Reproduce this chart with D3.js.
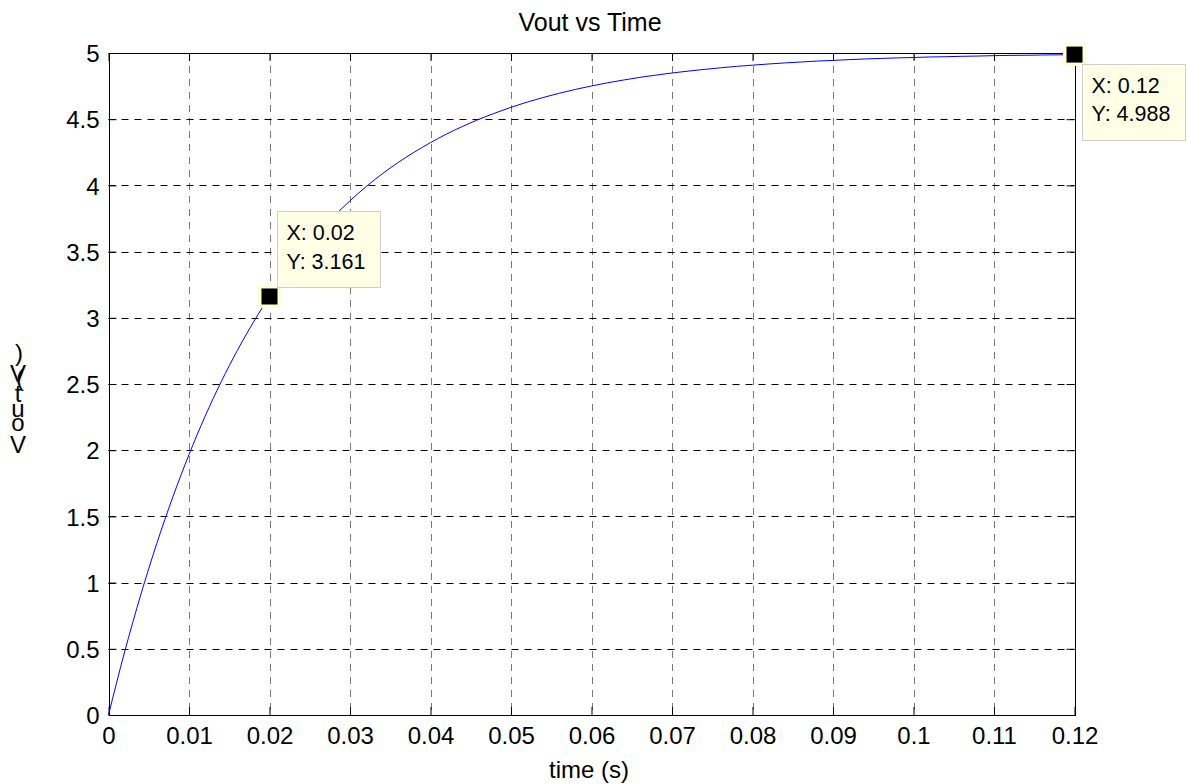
<!DOCTYPE html>
<html>
<head>
<meta charset="utf-8">
<script src="https://cdn.jsdelivr.net/npm/d3@7"></script>
<style>
  body { margin: 0; background: #fff; }
  text { font-family: "Liberation Sans", Arial, sans-serif; fill: #000; }
</style>
</head>
<body>
<div id="chart"></div>
<script>
// time samples (s) and Vout (V)
const time = [0, 0.002, 0.004, 0.006, 0.008, 0.01, 0.012, 0.014, 0.016, 0.018,
  0.02, 0.022, 0.024, 0.026, 0.028, 0.03, 0.032, 0.034, 0.036, 0.038,
  0.04, 0.042, 0.044, 0.046, 0.048, 0.05, 0.052, 0.054, 0.056, 0.058,
  0.06, 0.062, 0.064, 0.066, 0.068, 0.07, 0.072, 0.074, 0.076, 0.078,
  0.08, 0.082, 0.084, 0.086, 0.088, 0.09, 0.092, 0.094, 0.096, 0.098,
  0.1, 0.102, 0.104, 0.106, 0.108, 0.11, 0.112, 0.114, 0.116, 0.118, 0.12];
const vout = [0, 0.476, 0.906, 1.296, 1.648, 1.967, 2.256, 2.517, 2.753, 2.967,
  3.161, 3.336, 3.494, 3.637, 3.767, 3.884, 3.991, 4.087, 4.174, 4.252,
  4.323, 4.388, 4.446, 4.499, 4.546, 4.590, 4.629, 4.664, 4.696, 4.725,
  4.751, 4.775, 4.796, 4.816, 4.833, 4.849, 4.863, 4.876, 4.888, 4.899,
  4.908, 4.917, 4.925, 4.932, 4.939, 4.944, 4.950, 4.955, 4.959, 4.963,
  4.966, 4.970, 4.972, 4.975, 4.977, 4.980, 4.982, 4.983, 4.985, 4.986, 4.988];

const xTicks = [0, 0.01, 0.02, 0.03, 0.04, 0.05, 0.06, 0.07, 0.08, 0.09, 0.1, 0.11, 0.12];
const xTickLabels = ["0", "0.01", "0.02", "0.03", "0.04", "0.05", "0.06", "0.07", "0.08", "0.09", "0.1", "0.11", "0.12"];
const yTicks = [0, 0.5, 1, 1.5, 2, 2.5, 3, 3.5, 4, 4.5, 5];
const yTickLabels = ["0", "0.5", "1", "1.5", "2", "2.5", "3", "3.5", "4", "4.5", "5"];

// data tips
const tipX = [0.02, 0.12];
const tipY = [3.161, 4.988];
const tipText = [["X: 0.02", "Y: 3.161"], ["X: 0.12", "Y: 4.988"]];

const width = 1187, height = 784;
const plotLeft = 108.5, plotRight = 1074.5, plotTop = 53, plotBottom = 715;

const svg = d3.select("#chart").append("svg")
  .attr("width", width)
  .attr("height", height);

const x = d3.scaleLinear().domain([0, 0.12]).range([plotLeft, plotRight]);
const y = d3.scaleLinear().domain([0, 5]).range([plotBottom, plotTop]);

// grid
svg.append("g").selectAll("line")
  .data(xTicks.slice(1, -1))
  .enter().append("line")
  .attr("x1", d => Math.round(x(d)) + 0.5).attr("x2", d => Math.round(x(d)) + 0.5)
  .attr("y1", plotTop).attr("y2", plotBottom)
  .attr("stroke", "#7a7a7a")
  .attr("stroke-dasharray", "7,6");

svg.append("g").selectAll("line")
  .data(yTicks.slice(1, -1))
  .enter().append("line")
  .attr("x1", plotLeft).attr("x2", plotRight)
  .attr("y1", d => Math.round(y(d)) + 0.5).attr("y2", d => Math.round(y(d)) + 0.5)
  .attr("stroke", "#000")
  .attr("stroke-dasharray", "7,6");

// axes (ticks point inward, mirrored on top/right)
const xAxis = d3.axisBottom(x).tickValues(xTicks)
  .tickFormat((d, i) => xTickLabels[i])
  .tickSizeInner(-8).tickSizeOuter(0).tickPadding(12);
const yAxis = d3.axisLeft(y).tickValues(yTicks)
  .tickFormat((d, i) => yTickLabels[i])
  .tickSizeInner(-8).tickSizeOuter(0).tickPadding(9);

const gx = svg.append("g").attr("transform", `translate(0,${plotBottom})`).call(xAxis);
const gy = svg.append("g").attr("transform", `translate(${plotLeft},0)`).call(yAxis);
const gxt = svg.append("g").attr("transform", `translate(0,${plotTop})`)
  .call(d3.axisTop(x).tickValues(xTicks).tickFormat("").tickSizeInner(-8).tickSizeOuter(0));
const gyr = svg.append("g").attr("transform", `translate(${plotRight},0)`)
  .call(d3.axisRight(y).tickValues(yTicks).tickFormat("").tickSizeInner(-8).tickSizeOuter(0));

[gx, gy, gxt, gyr].forEach(g => {
  g.select(".domain").remove();
  g.selectAll("line").attr("stroke", "#000");
  g.attr("font-family", null);
});
gx.selectAll("text").attr("font-size", 24);
gy.selectAll("text").attr("font-size", 24).attr("dy", "0.36em");

// box
svg.append("rect")
  .attr("x", Math.round(plotLeft) + 0.5).attr("y", plotTop + 0.5)
  .attr("width", Math.round(plotRight) - Math.round(plotLeft)).attr("height", plotBottom - plotTop)
  .attr("fill", "none")
  .attr("stroke", "#000");

// curve
const line = d3.line()
  .x((d, i) => x(time[i]))
  .y(d => y(d))
  .curve(d3.curveMonotoneX);

svg.append("path")
  .datum(vout)
  .attr("d", line)
  .attr("fill", "none")
  .attr("stroke", "#0000ff")
  .attr("stroke-width", 1);

// title and labels
svg.append("text")
  .attr("x", 590).attr("y", 31)
  .attr("text-anchor", "middle")
  .attr("font-size", 25)
  .text("Vout vs Time");

svg.append("text")
  .attr("x", 589).attr("y", 778)
  .attr("text-anchor", "middle")
  .attr("font-size", 24)
  .text("time (s)");

// y label: glyphs stacked upright, as in the original rendering
const yLabelChars = ["V", "o", "u", "t", "(", "V", ")"];
const yLabelBase = [453, 431, 417, 402, 386, 382, 361];
const yLabelX = [18, 18, 18, 18, 20, 18, 19];
svg.append("g").selectAll("text")
  .data(yLabelChars)
  .enter().append("text")
  .attr("x", (d, i) => yLabelX[i])
  .attr("y", (d, i) => yLabelBase[i])
  .attr("text-anchor", "middle")
  .attr("font-size", 24)
  .text(d => d);

// data tips
const tips = svg.append("g").selectAll("g")
  .data(tipX)
  .enter().append("g");

tips.append("rect")
  .attr("x", d => x(d) - 11.5)
  .attr("y", (d, i) => y(tipY[i]) - 11.5)
  .attr("width", 23).attr("height", 23)
  .attr("fill", "#ffffd2");
tips.append("rect")
  .attr("x", d => x(d) - 8)
  .attr("y", (d, i) => y(tipY[i]) - 8)
  .attr("width", 16).attr("height", 16)
  .attr("fill", "#000");

// box above-right for the first tip, below-right for the second
const boxW = 103, boxH = 76;
const boxX = (d, i) => x(d) + 7;
const boxY = (d, i) => i === 0 ? y(tipY[i]) - 9 - boxH : y(tipY[i]) + 9;

tips.append("rect")
  .attr("x", (d, i) => Math.round(boxX(d, i)) + 0.5)
  .attr("y", (d, i) => Math.round(boxY(d, i)) + 0.5)
  .attr("width", boxW).attr("height", boxH)
  .attr("fill", "#ffffe6")
  .attr("stroke", "#cfcfcf");

tips.each(function (d, i) {
  const g = d3.select(this);
  tipText[i].forEach((t, j) => {
    g.append("text")
      .attr("x", boxX(d, i) + 10)
      .attr("y", boxY(d, i) + 29 + j * 28.5)
      .attr("font-size", 21.5)
      .text(t);
  });
});
</script>
</body>
</html>
